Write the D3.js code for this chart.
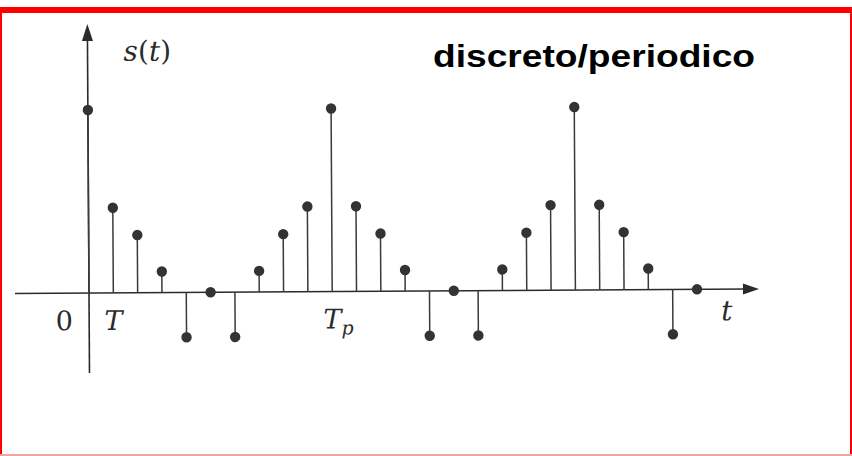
<!DOCTYPE html>
<html>
<head>
<meta charset="utf-8">
<script src="https://cdn.jsdelivr.net/npm/d3@7"></script>
<style>
  html, body { margin: 0; padding: 0; background: #fff; }
  svg { display: block; }
</style>
</head>
<body>
<svg id="chart" width="852" height="456"></svg>
<script>
// one period of the sampled signal s(nT), period Tp = 10 T
const period = [1, 0.465, 0.315, 0.115, -0.245, 0, -0.245, 0.115, 0.315, 0.465];
const sampleIndex = d3.range(0, 26);
const samples = sampleIndex.map(n => ({ n, v: period[n % period.length] }));

const tickLabels = [
  { n: 1, text: "T", sub: "" },
  { n: 10, text: "T", sub: "p" }
];
const title = "discreto/periodico";

const svg = d3.select("#chart");

// frame
svg.append("rect").attr("x", 0).attr("y", 7).attr("width", 852).attr("height", 6).attr("fill", "#ff0000");
svg.append("rect").attr("x", 0).attr("y", 13).attr("width", 2).attr("height", 443).attr("fill", "#ff0000");
svg.append("rect").attr("x", 850).attr("y", 13).attr("width", 2).attr("height", 443).attr("fill", "#ff0000");
svg.append("rect").attr("x", 0).attr("y", 454).attr("width", 852).attr("height", 2).attr("fill", "#f3a3a3");

const x = d3.scaleLinear().domain([0, 25]).range([89, 697]);
const y = d3.scaleLinear().domain([0, 1]).range([293, 110]);

const ink = "#2b2b2b";
const g = svg.append("g").attr("transform", `rotate(-0.35, ${x(0)}, ${y(0)})`);

// axes with arrowheads
g.append("line").attr("x1", 15).attr("x2", 748).attr("y1", y(0)).attr("y2", y(0))
  .attr("stroke", ink).attr("stroke-width", 1.6);
g.append("path")
  .attr("d", `M${759},${y(0)} L${743},${y(0) - 5.5} L${743},${y(0) + 5.5} Z`)
  .attr("fill", ink);

g.append("line").attr("x1", x(0)).attr("x2", x(0)).attr("y1", 373).attr("y2", 36)
  .attr("stroke", ink).attr("stroke-width", 1.6);
g.append("path")
  .attr("d", `M${x(0)},${24} L${x(0) - 5.5},${41} L${x(0) + 5.5},${41} Z`)
  .attr("fill", ink);

// stems
g.selectAll("line.stem").data(samples.filter(d => d.v !== 0)).join("line")
  .attr("class", "stem")
  .attr("x1", d => x(d.n)).attr("x2", d => x(d.n))
  .attr("y1", y(0)).attr("y2", d => y(d.v))
  .attr("stroke", "#3a3a3a").attr("stroke-width", 1.5);

// sample heads
g.selectAll("circle.head").data(samples).join("circle")
  .attr("class", "head")
  .attr("cx", d => x(d.n)).attr("cy", d => y(d.v)).attr("r", 5.2)
  .attr("fill", "#333");

// labels
const serif = "'DejaVu Serif', 'Liberation Serif', serif";
g.append("text").attr("x", 64).attr("y", 330).attr("text-anchor", "middle")
  .attr("font-family", serif).attr("font-size", 27).attr("fill", ink)
  .text("0");

const tl = g.selectAll("text.tick").data(tickLabels).join("text")
  .attr("class", "tick")
  .attr("x", d => x(d.n) - 9).attr("y", 330)
  .attr("font-family", serif).attr("font-style", "italic")
  .attr("font-size", 27).attr("fill", ink);
tl.append("tspan").text(d => d.text);
tl.append("tspan").attr("dy", 6).attr("font-size", 19).text(d => d.sub);

g.append("text").attr("x", 721).attr("y", 324)
  .attr("font-family", serif).attr("font-style", "italic")
  .attr("font-size", 28).attr("fill", ink).text("t");

const st = g.append("text").attr("x", 125).attr("y", 61)
  .attr("font-family", serif).attr("font-size", 28).attr("fill", ink);
st.append("tspan").attr("font-style", "italic").text("s");
st.append("tspan").text("(");
st.append("tspan").attr("font-style", "italic").text("t");
st.append("tspan").text(")");

// title
svg.append("text").attr("x", 433).attr("y", 67)
  .attr("font-family", "'Liberation Sans', Arial, sans-serif").attr("font-weight", "bold")
  .attr("font-size", 32).attr("fill", "#000")
  .attr("textLength", 322).attr("lengthAdjust", "spacingAndGlyphs")
  .text(title);
</script>
</body>
</html>
